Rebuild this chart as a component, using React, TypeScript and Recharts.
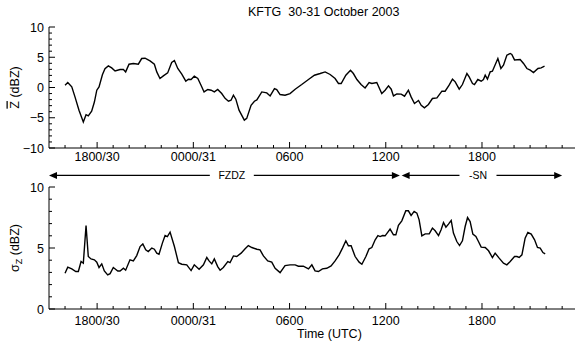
import { LineChart, Line, XAxis, YAxis, ReferenceLine, Label } from "recharts";

const FONT = "'Liberation Sans', Arial, Helvetica, sans-serif";

// time in hours since 00 UTC 30 Oct 2003
const zTime = [
  16.0, 16.17, 16.42, 16.62, 16.87, 17.14, 17.31, 17.45, 17.66, 17.83,
  17.98, 18.12, 18.33, 18.49, 18.7, 18.91, 19.12, 19.43, 19.64, 19.78,
  19.99, 20.26, 20.57, 20.78, 20.99, 21.3, 21.57, 21.72, 21.92, 22.13,
  22.4, 22.65, 22.82, 23.03, 23.28, 23.53, 23.69, 23.86, 24.06, 24.28,
  24.48, 24.67, 24.9, 25.11, 25.31, 25.52, 25.77, 25.98, 26.19, 26.35,
  26.5, 26.65, 26.85, 27.18, 27.33, 27.6, 27.81, 27.96, 28.27, 28.58,
  28.79, 29.06, 29.2, 29.41, 29.72, 30.03, 30.35, 30.76, 31.18, 31.55,
  31.91, 32.22, 32.53, 32.84, 33.05, 33.22, 33.51, 33.8, 33.98, 34.2,
  34.46, 34.71, 34.96, 35.13, 35.44, 35.75, 35.96, 36.17, 36.34, 36.48,
  36.69, 36.96, 37.17, 37.41, 37.58, 37.79, 38.04, 38.21, 38.41, 38.66,
  38.91, 39.19, 39.5, 39.7, 39.95, 40.16, 40.33, 40.58, 40.78, 41.06,
  41.2, 41.41, 41.53, 41.74, 41.95, 42.09, 42.2, 42.34, 42.51, 42.65,
  42.99, 43.18, 43.34, 43.55, 43.76, 43.86, 44.03, 44.38, 44.59, 44.8,
  45.01, 45.21, 45.49, 45.69, 45.9,
];
const zMean = [
  0.38, 0.83, 0.1, -1.55, -3.75, -5.7, -4.5, -4.7, -3.9, -2.4,
  -0.45, 0.1, 2.1, 3.1, 3.57, 3.24, 2.74, 2.97, 2.97, 2.58,
  3.85, 3.97, 3.85, 4.79, 4.84, 4.4, 3.85, 2.58, 1.49, 1.92,
  2.41, 4.13, 4.46, 3.14, 2.2, 1.04, 1.37, 1.32, 1.87, 1.49,
  0.38, -0.73, -0.33, -0.45, -0.73, -0.33, -1.0, -1.8, -2.27, -2.1,
  -1.27, -1.93, -3.75, -5.4, -5.1, -2.93, -2.27, -2.05, -0.73, -0.89,
  -1.39, -0.17, -0.33, -1.16, -1.27, -1.0, -0.28, 0.49, 1.32, 2.03,
  2.31, 2.58, 2.15, 1.49, 0.66, 0.66, 2.03, 2.86, 2.31, 1.32,
  0.49, -0.07, 0.83, 0.66, 0.83, -1.0, -0.45, 0.27, -0.28, -1.39,
  -1.05, -1.1, -1.44, -0.45, -1.55, -2.65, -2.15, -2.93, -3.37, -2.81,
  -1.82, -1.72, -0.61, -0.61, 0.38, 1.37, 0.93, -0.28, 0.49, 2.31,
  1.75, 0.66, 0.49, 1.32, 1.04, 1.32, 2.03, 1.37, 2.58, 2.69,
  4.79, 3.14, 3.69, 5.34, 5.62, 5.45, 4.56, 4.63, 3.97, 3.14,
  2.86, 2.48, 3.14, 3.24, 3.52,
];

const sTime = [
  16.0, 16.17, 16.42, 16.67, 16.83, 17.0, 17.14, 17.31, 17.45, 17.62,
  17.83, 17.98, 18.12, 18.29, 18.45, 18.66, 18.81, 19.01, 19.29, 19.43,
  19.64, 19.78, 20.05, 20.26, 20.47, 20.68, 20.85, 21.03, 21.19, 21.41,
  21.57, 21.72, 21.86, 22.07, 22.24, 22.38, 22.55, 22.82, 23.07, 23.28,
  23.59, 23.86, 24.06, 24.36, 24.63, 24.84, 24.98, 25.15, 25.31, 25.52,
  25.67, 25.87, 26.15, 26.29, 26.5, 26.71, 26.98, 27.23, 27.43, 27.65,
  27.96, 28.16, 28.37, 28.64, 28.89, 29.1, 29.41, 29.72, 30.03, 30.35,
  30.55, 30.86, 31.18, 31.39, 31.59, 31.8, 32.05, 32.32, 32.59, 32.84,
  33.09, 33.3, 33.51, 33.67, 33.84, 34.09, 34.34, 34.51, 34.76, 34.96,
  35.13, 35.34, 35.51, 35.65, 35.8, 35.96, 36.27, 36.48, 36.63, 36.79,
  37.0, 37.25, 37.41, 37.58, 37.77, 37.94, 38.08, 38.25, 38.46, 38.71,
  38.91, 39.08, 39.29, 39.45, 39.6, 39.75, 39.91, 40.08, 40.22, 40.43,
  40.6, 40.78, 40.95, 41.1, 41.26, 41.43, 41.62, 41.78, 41.95, 42.2,
  42.41, 42.65, 42.82, 43.07, 43.34, 43.55, 43.76, 44.03, 44.18, 44.32,
  44.49, 44.69, 44.86, 45.07, 45.28, 45.46, 45.63, 45.8, 45.94,
];
const sigmaZ = [
  2.93, 3.43, 3.29, 3.07, 3.07, 3.89, 3.75, 6.85, 4.3, 4.1,
  4.03, 3.84, 3.4, 3.7, 3.12, 2.79, 2.9, 3.4, 3.12, 3.12,
  3.34, 3.18, 4.03, 3.94, 4.38, 5.12, 5.34, 4.85, 4.71, 4.99,
  4.9, 4.58, 4.49, 5.4, 6.02, 5.94, 6.3, 5.12, 3.8, 3.67,
  3.62, 3.15, 3.62, 3.26, 3.62, 4.22, 3.94, 3.7, 4.11, 3.48,
  3.18, 3.4, 3.89, 3.8, 4.35, 4.3, 4.58, 4.93, 5.2, 5.04,
  4.9, 4.85, 4.35, 3.94, 3.84, 3.34, 2.98, 3.56, 3.62, 3.62,
  3.51, 3.51, 3.29, 3.62, 3.12, 3.07, 3.29, 3.34, 3.53, 3.94,
  4.44, 4.99, 5.59, 5.18, 5.18, 4.3, 3.84, 3.67, 4.3, 4.93,
  5.04, 5.67, 6.02, 5.94, 6.02, 6.0, 6.55, 6.08, 6.08, 6.85,
  7.23, 8.05, 8.05, 7.67, 8.0, 7.86, 7.31, 6.0, 6.16, 6.16,
  6.63, 6.41, 6.02, 6.49, 7.09, 6.71, 6.96, 7.26, 6.22, 5.53,
  5.2, 5.59, 6.76, 7.5, 7.17, 6.14, 5.94, 5.53, 5.07, 5.04,
  4.77, 4.22, 4.58, 4.17, 3.75, 3.62, 3.89, 4.3, 4.3, 4.22,
  4.44, 5.81, 6.27, 6.14, 5.67, 5.04, 4.99, 4.63, 4.52,
];

const hourTicks = [
  16, 17, 18, 19, 20, 21, 22, 23, 24, 25, 26, 27, 28, 29, 30, 31,
  32, 33, 34, 35, 36, 37, 38, 39, 40, 41, 42, 43, 44, 45, 46, 47,
];
const majorHours = [18, 24, 30, 36, 42];
const majorLabels = ["1800/30", "0000/31", "0600", "1200", "1800"];

const zTicks = [-10, -9, -8, -7, -6, -5, -4, -3, -2, -1, 0, 1, 2, 3, 4, 5, 6, 7, 8, 9, 10];
const sTicks = [0, 1, 2, 3, 4, 5, 6, 7, 8, 9, 10];

const periods = [
  { label: "FZDZ", start: 15, end: 36.88, mid: 26.4 },
  { label: "-SN", start: 36.99, end: 47.0, mid: 41.75 },
];

const X_DOMAIN = [15, 47.8];
const ARROW_LEVEL = 10.95;

const zData = zTime.map((t, i) => ({ t, v: zMean[i] }));
const sData = sTime.map((t, i) => ({ t, v: sigmaZ[i] }));

const fmtY = (v: number) => (v < 0 ? "\u2212" + Math.abs(v) : String(v));

const XTick = ({ x, y, payload, dir, labelDy }: any) => {
  const i = majorHours.indexOf(payload.value);
  const len = i >= 0 ? 6 : 3;
  return (
    <g>
      <line x1={x} x2={x} y1={y} y2={y + dir * len} stroke="#000" strokeWidth={1} />
      {labelDy && i >= 0 ? (
        <text x={x} y={y + labelDy} textAnchor="middle" fontSize={12.5} fontFamily={FONT} fill="#000">
          {majorLabels[i]}
        </text>
      ) : null}
    </g>
  );
};

const YTick = ({ x, y, payload, dir, showLabel }: any) => {
  const major = payload.value % 5 === 0;
  const len = major ? 6 : 3;
  return (
    <g>
      <line x1={x} x2={x + dir * len} y1={y} y2={y} stroke="#000" strokeWidth={1} />
      {showLabel && major ? (
        <text x={x - 5} y={y + 4.5} textAnchor="end" fontSize={12.5} fontFamily={FONT} fill="#000">
          {fmtY(payload.value)}
        </text>
      ) : null}
    </g>
  );
};

const yLabel = (kind: string) => (props: any) => {
  const vb = props.viewBox || {};
  const cy = (vb.y || 0) + (vb.height || 0) / 2;
  return (
    <text
      transform={`translate(18.5, ${cy}) rotate(-90)`}
      textAnchor="middle"
      fontSize={12.5}
      fontFamily={FONT}
      fill="#000"
    >
      {kind === "mean" ? (
        <>
          <tspan style={{ textDecoration: "overline" }}>Z</tspan>
          <tspan> (dBZ)</tspan>
        </>
      ) : (
        <>
          <tspan>σ</tspan>
          <tspan dy={3} fontSize={9}>Z</tspan>
          <tspan dy={-3}> (dBZ)</tspan>
        </>
      )}
    </text>
  );
};

const periodShape = (p: any) => (props: any) => {
  const { x1, x2, y1 } = props;
  const cx = x1 + ((p.mid - p.start) / (p.end - p.start)) * (x2 - x1);
  const gap = p.label.length * 3.5 + 8;
  const head = 8;
  return (
    <g>
      <line x1={x1 + head - 1} x2={cx - gap} y1={y1} y2={y1} stroke="#000" strokeWidth={1.2} />
      <line x1={cx + gap} x2={x2 - head + 1} y1={y1} y2={y1} stroke="#000" strokeWidth={1.2} />
      <polygon points={`${x1},${y1} ${x1 + head},${y1 - 3.5} ${x1 + head},${y1 + 3.5}`} fill="#000" />
      <polygon points={`${x2},${y1} ${x2 - head},${y1 - 3.5} ${x2 - head},${y1 + 3.5}`} fill="#000" />
      <text x={cx} y={y1 + 3.8} textAnchor="middle" fontSize={10.5} fontFamily={FONT} fill="#000">
        {p.label}
      </text>
    </g>
  );
};

const Panel = ({ data, yDomain, yTicks, top, height, marginTop, axisHeight, labelDy, kind, children }: any) => (
  <div style={{ position: "absolute", left: 0, top }}>
    <LineChart width={576} height={height} data={data} margin={{ top: marginTop, right: 1, bottom: 0, left: 9 }}>
      <XAxis
        dataKey="t"
        type="number"
        domain={X_DOMAIN}
        allowDataOverflow
        ticks={hourTicks}
        interval={0}
        height={axisHeight}
        tickSize={0}
        tickMargin={0}
        tickLine={false}
        axisLine={{ stroke: "#000" }}
        tick={<XTick dir={-1} labelDy={labelDy} />}
      />
      <XAxis
        xAxisId="top"
        orientation="top"
        dataKey="t"
        type="number"
        domain={X_DOMAIN}
        allowDataOverflow
        ticks={hourTicks}
        interval={0}
        height={0}
        tickSize={0}
        tickMargin={0}
        tickLine={false}
        axisLine={{ stroke: "#000" }}
        tick={<XTick dir={1} />}
      />
      <YAxis
        type="number"
        domain={yDomain}
        allowDataOverflow
        ticks={yTicks}
        interval={0}
        width={40}
        tickSize={0}
        tickMargin={0}
        tickLine={false}
        axisLine={{ stroke: "#000" }}
        tick={<YTick dir={1} showLabel />}
      >
        <Label content={yLabel(kind)} />
      </YAxis>
      <YAxis
        yAxisId="right"
        orientation="right"
        type="number"
        domain={yDomain}
        allowDataOverflow
        ticks={yTicks}
        interval={0}
        width={0}
        tickSize={0}
        tickMargin={0}
        tickLine={false}
        axisLine={{ stroke: "#000" }}
        tick={<YTick dir={-1} />}
      />
      <Line
        type="linear"
        dataKey="v"
        stroke="#000"
        strokeWidth={1.4}
        dot={false}
        isAnimationActive={false}
      />
      {children}
    </LineChart>
  </div>
);

export default function App() {
  return (
    <div
      style={{
        position: "absolute",
        left: 0,
        top: 0,
        width: 576,
        height: 346,
        background: "#fff",
        fontFamily: FONT,
        overflow: "hidden",
      }}
    >
      <div style={{ position: "absolute", left: 248, top: 5, fontSize: 12.5, lineHeight: "14px", whiteSpace: "pre" }}>
        {"KFTG  30-31 October 2003"}
      </div>
      <Panel
        data={zData}
        yDomain={[-10, 10]}
        yTicks={zTicks}
        top={0}
        height={168}
        marginTop={27}
        axisHeight={20}
        labelDy={13}
        kind="mean"
      />
      <Panel
        data={sData}
        yDomain={[0, 10]}
        yTicks={sTicks}
        top={168}
        height={178}
        marginTop={19}
        axisHeight={37}
        labelDy={15.5}
        kind="sigma"
      >
        {periods.map((p) => (
          <ReferenceLine
            key={p.label}
            segment={[
              { x: p.start, y: ARROW_LEVEL },
              { x: p.end, y: ARROW_LEVEL },
            ]}
            ifOverflow="visible"
            shape={periodShape(p)}
          />
        ))}
      </Panel>
      <div style={{ position: "absolute", left: 297, top: 327, fontSize: 12.5, lineHeight: "14px", whiteSpace: "pre" }}>
        Time (UTC)
      </div>
    </div>
  );
}
